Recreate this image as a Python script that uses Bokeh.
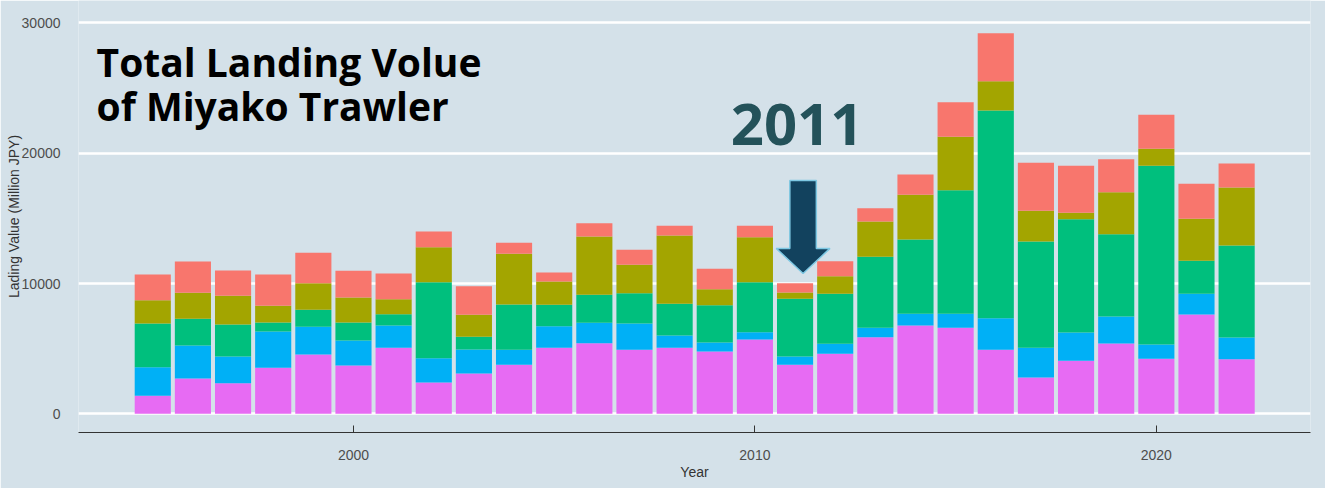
from bokeh.plotting import figure
from bokeh.models import ColumnDataSource, Range1d, Label, FixedTicker
from bokeh.embed import file_html
from bokeh.resources import INLINE

years = list(range(1995, 2023))
# stacked segment boundaries (Million JPY), bottom to top
cat_a = [1380, 2709, 2349, 3531, 4551, 3707, 5066, 2402, 3093, 3761, 5066, 5419, 4912, 5066,
         4781, 5703, 3761, 4605, 5879, 6777, 6600, 4912, 2786, 4068, 5395, 4221, 7621, 4191]
cat_b_top = [3580, 5242, 4398, 6317, 6677, 5626, 6777, 4267, 4935, 4912, 6723, 6984, 6930, 6010,
             5472, 6263, 4398, 5373, 6600, 7675, 7675, 7337, 5066, 6240, 7468, 5319, 9210, 5856]
cat_c_top = [6930, 7291, 6854, 7007, 7982, 7007, 7644, 10100, 5910, 8389, 8366, 9133, 9256, 8443,
             8335, 10100, 8826, 9210, 12050, 13378, 17161, 23278, 13224, 14936, 13785, 19034, 11743, 12917]
cat_d_top = [8720, 9287, 9057, 8289, 10024, 8926, 8796, 12787, 7598, 12280, 10154, 13608, 11436, 13685,
             9563, 13554, 9310, 10561, 14759, 16808, 21260, 25527, 15580, 15427, 17008, 20339, 14966, 17369]
totals = [10690, 11690, 11000, 10690, 12357, 10975, 10768, 13991, 9793, 13124, 10845, 14629, 12587, 14429,
          11129, 14429, 10024, 11712, 15780, 18366, 23915, 29211, 19264, 19034, 19541, 22948, 17653, 19211]

cat_b = [t - l for t, l in zip(cat_b_top, cat_a)]
cat_c = [t - l for t, l in zip(cat_c_top, cat_b_top)]
cat_d = [t - l for t, l in zip(cat_d_top, cat_c_top)]
cat_e = [t - l for t, l in zip(totals, cat_d_top)]

cats = ["a", "b", "c", "d", "e"]
colors = ["#E76BF3", "#00B0F6", "#00BF7D", "#A3A500", "#F8766D"]
y_ticks = [0, 10000, 20000, 30000]
x_ticks = [2000, 2010, 2020]

BG = "#d4e1e9"

src = ColumnDataSource(dict(year=years, a=cat_a, b=cat_b, c=cat_c, d=cat_d, e=cat_e))

p = figure(width=1325, height=488, output_backend="svg", toolbar_location=None,
           x_range=Range1d(1993.15, 2023.84), y_range=Range1d(-1435, 31721),
           min_border_left=78, min_border_right=15, min_border_top=0, min_border_bottom=56)
p.background_fill_color = BG
p.border_fill_color = BG
p.outline_line_color = None

p.vbar_stack(cats, x="year", width=0.9, color=colors, source=src, line_color=None)

# grid
p.xgrid.grid_line_color = None
p.ygrid.grid_line_color = "white"
p.ygrid.grid_line_width = 2.5
p.ygrid.ticker = FixedTicker(ticks=y_ticks)
p.ygrid.level = "underlay"

# y axis
p.yaxis.ticker = FixedTicker(ticks=y_ticks)
p.yaxis.axis_line_color = None
p.yaxis.major_tick_line_color = None
p.yaxis.minor_tick_line_color = None
p.yaxis.major_label_standoff = 12
p.yaxis.major_label_text_font = "Liberation Sans"
p.yaxis.major_label_text_font_size = "14px"
p.yaxis.major_label_text_color = "#4d4d4d"
p.yaxis.axis_label = "Lading Value (Million JPY)"
p.yaxis.axis_label_text_font = "Liberation Sans"
p.yaxis.axis_label_text_font_style = "normal"
p.yaxis.axis_label_text_font_size = "14px"
p.yaxis.axis_label_text_color = "#333333"
p.yaxis.axis_label_standoff = -3

# x axis
p.xaxis.ticker = FixedTicker(ticks=x_ticks)
p.xaxis.axis_line_color = "#333333"
p.xaxis.axis_line_width = 1.2
p.xaxis.major_tick_line_color = "#333333"
p.xaxis.major_tick_in = 7
p.xaxis.major_tick_out = 0
p.xaxis.minor_tick_line_color = None
p.xaxis.major_label_standoff = 17
p.xaxis.major_label_text_font = "Liberation Sans"
p.xaxis.major_label_text_font_size = "14px"
p.xaxis.major_label_text_color = "#4d4d4d"
p.xaxis.axis_label = "Year"
p.xaxis.axis_label_text_font = "Liberation Sans"
p.xaxis.axis_label_text_font_style = "normal"
p.xaxis.axis_label_text_font_size = "14px"
p.xaxis.axis_label_text_color = "#333333"
p.xaxis.axis_label_standoff = 1

# title text
for txt, yv in [("Total Landing Volue", 27039), ("of Miyako Trawler", 23685)]:
    p.add_layout(Label(x=1993.6, y=yv, text=txt, text_font="Open Sans",
                       text_font_style="bold", text_font_size="39px", text_color="black",
                       text_baseline="alphabetic"))

# 2011 annotation
hl_year = 2011
hl_total = totals[years.index(hl_year)]
p.add_layout(Label(x=hl_year + 0.05, y=22242, text=str(hl_year), text_font="Open Sans",
                   text_font_style="bold", text_font_size="58px", text_color="#24525a",
                   text_align="center", text_baseline="alphabetic"))

ax = hl_year + 0.2
tip = hl_total + 750
shaft_hw = 0.33
head_hw = 0.67
head_base = tip + 1920
top = tip + 7140
p.patch([ax - shaft_hw, ax + shaft_hw, ax + shaft_hw, ax + head_hw, ax, ax - head_hw, ax - shaft_hw],
        [top, top, head_base, head_base, tip, head_base, head_base],
        fill_color="#12425e", line_color="#7ec8e3", line_width=1.5)

open("out.html", "w").write(file_html(p, INLINE))
